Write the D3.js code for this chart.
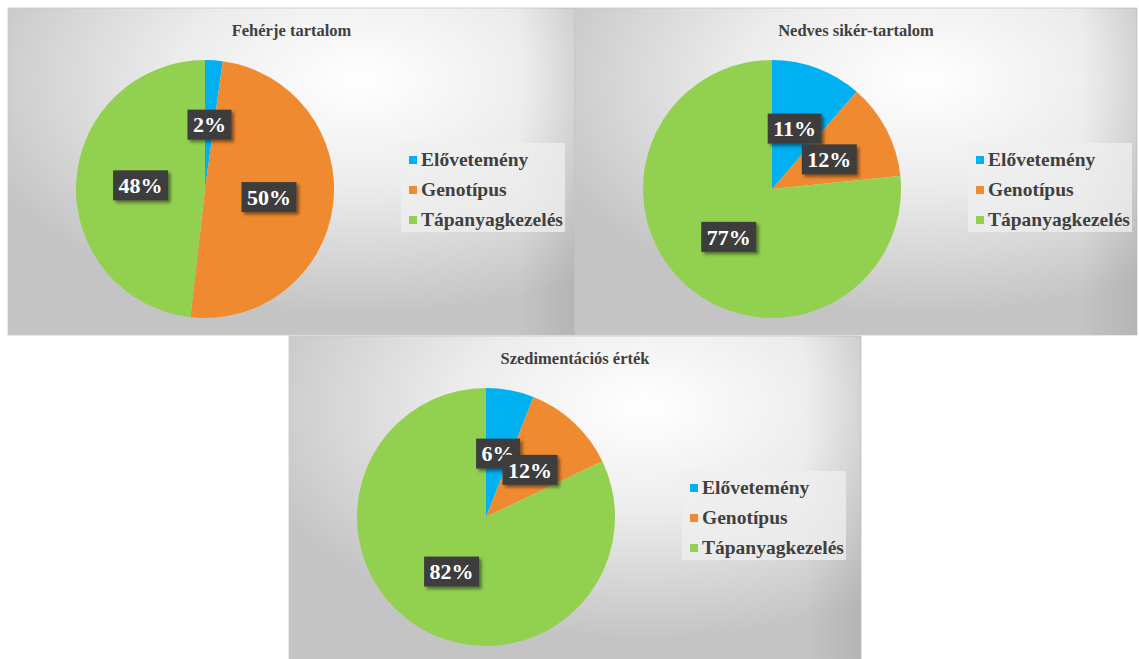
<!DOCTYPE html>
<html>
<head>
<meta charset="utf-8">
<script src="https://cdn.jsdelivr.net/npm/d3@7"></script>
<style>
  body { margin: 0; background: #fff; }
  svg { display: block; }
  text { font-family: "Liberation Serif", "Times New Roman", Tinos, "DejaVu Serif", serif; font-weight: bold; }
</style>
</head>
<body>
<div id="chart"></div>
<script>
// data
const categories = ["Elővetemény", "Genotípus", "Tápanyagkezelés"];
const titles = ["Fehérje tartalom", "Nedves sikér-tartalom", "Szedimentációs érték"];
const feherje = [2.2, 49.6, 48.2];
const nedves = [11.4, 12.0, 76.6];
const szedimentacio = [6.0, 11.9, 82.1];
const colors = ["#00b0f0", "#f08a30", "#92d050"];

const width = 1139, height = 659;
const radius = 129;

// layout of the three chart boxes
const panels = [
  { x: 8, y: 8, w: 567, h: 327, title: titles[0], values: feherje },
  { x: 575, y: 8, w: 562, h: 327, title: titles[1], values: nedves },
  { x: 289, y: 336, w: 572, h: 323, title: titles[2], values: szedimentacio }
];

const svg = d3.select("#chart").append("svg")
  .attr("width", width)
  .attr("height", height);

const defs = svg.append("defs");

const grad = defs.append("radialGradient")
  .attr("id", "bg")
  .attr("cx", 0.62).attr("cy", 0.22).attr("r", 0.72);
grad.append("stop").attr("offset", 0).attr("stop-color", "#ffffff");
grad.append("stop").attr("offset", 0.45).attr("stop-color", "#ececec");
grad.append("stop").attr("offset", 1).attr("stop-color", "#c4c4c4");

const edge = defs.append("linearGradient").attr("id", "edge");
edge.append("stop").attr("offset", 0.9).attr("stop-color", "#000").attr("stop-opacity", 0);
edge.append("stop").attr("offset", 1).attr("stop-color", "#000").attr("stop-opacity", 0.08);

const shadow = defs.append("filter").attr("id", "shadow")
  .attr("x", "-30%").attr("y", "-30%").attr("width", "160%").attr("height", "160%");
shadow.append("feDropShadow")
  .attr("dx", 2.5).attr("dy", 2.5).attr("stdDeviation", 1.8)
  .attr("flood-color", "#000").attr("flood-opacity", 0.45);

const pie = d3.pie().sort(null).value(d => d);
const arc = d3.arc().innerRadius(0).outerRadius(radius);
const pct = d3.format(".0%");
const color = d3.scaleOrdinal().domain(categories).range(colors);

panels.forEach(p => {
  const g = svg.append("g").attr("transform", `translate(${p.x},${p.y})`);

  g.append("rect")
    .attr("width", p.w).attr("height", p.h)
    .attr("fill", "url(#bg)")
    .attr("stroke", "#c8c8c8").attr("stroke-width", 0.8);
  g.append("rect")
    .attr("width", p.w).attr("height", p.h)
    .attr("fill", "url(#edge)");

  g.append("text")
    .attr("x", p.w / 2).attr("y", 28)
    .attr("text-anchor", "middle")
    .attr("font-size", 16.5)
    .attr("fill", "#404040")
    .text(p.title);

  const cx = 197, cy = 181;
  const total = d3.sum(p.values);
  const arcs = pie(p.values);

  const pg = g.append("g").attr("transform", `translate(${cx},${cy})`);
  pg.selectAll("path")
    .data(arcs)
    .join("path")
    .attr("d", arc)
    .attr("fill", (d, i) => color(categories[i]));

  // data labels on the slice centroids
  const lab = pg.selectAll("g.lab")
    .data(arcs)
    .join("g")
    .attr("class", "lab")
    .attr("transform", d => `translate(${arc.centroid(d)})`);

  lab.append("rect").attr("fill", "#3d3d3d").attr("filter", "url(#shadow)");
  lab.append("text")
    .attr("text-anchor", "middle")
    .attr("dy", "0.35em")
    .attr("font-size", 22)
    .attr("fill", "#ffffff")
    .text(d => pct(d.value / total));
  lab.each(function () {
    const t = d3.select(this).select("text").node();
    const w = t.getComputedTextLength() + 11;
    d3.select(this).select("rect")
      .attr("x", -w / 2).attr("y", -15)
      .attr("width", w).attr("height", 30);
  });

  // legend
  const lx = cx + 196, ly = cy - 30;
  const leg = g.append("g").attr("transform", `translate(${lx},${ly})`);
  leg.append("rect")
    .attr("x", 0).attr("y", -16)
    .attr("width", 164).attr("height", 89)
    .attr("fill", "#efefef").attr("opacity", 0.75);
  const item = leg.selectAll("g.item")
    .data(categories)
    .join("g")
    .attr("class", "item")
    .attr("transform", (d, i) => `translate(0,${i * 30})`);
  item.append("rect")
    .attr("x", 8).attr("y", -3)
    .attr("width", 8).attr("height", 8)
    .attr("fill", d => color(d));
  item.append("text")
    .attr("x", 20).attr("y", 0)
    .attr("dy", "0.35em")
    .attr("font-size", 19.5)
    .attr("fill", "#404040")
    .text(d => d);
});
</script>
</body>
</html>
